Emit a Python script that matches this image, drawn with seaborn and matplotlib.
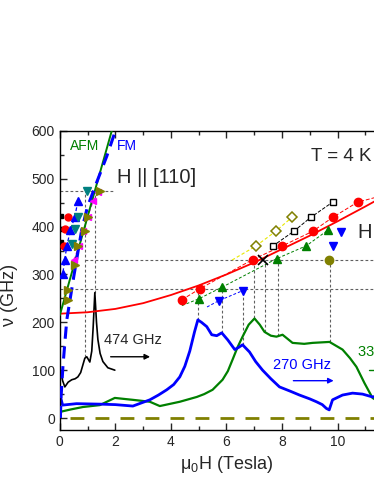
import matplotlib
matplotlib.use("Agg")
import matplotlib.pyplot as plt
import seaborn as sns
from matplotlib.ticker import MultipleLocator, FixedLocator

# ---- spectra (field in Tesla, signal plotted on GHz axis) ----
blue_h = [0.02, 0.1, 0.6, 1.44, 2.0, 2.63, 3.24, 3.55, 3.85, 4.1, 4.32, 4.5, 4.68, 4.85, 4.97,
          5.1, 5.29, 5.47, 5.65, 5.83, 6.05, 6.3, 6.45, 6.58, 6.83, 7.05, 7.3, 7.6, 7.91,
          8.3, 8.63, 9.0, 9.24, 9.45, 9.6, 9.7, 9.82, 10.18, 10.54, 10.9, 11.26, 11.6]
blue_s = [45, 27, 30, 29, 28, 25, 38, 48, 59, 70, 86, 108, 140, 180, 205,
          200, 191, 174, 172, 178, 163, 143, 148, 153, 138, 118, 100, 82, 65,
          56, 48, 40, 34, 28, 20, 17, 38, 48, 52, 50, 44, 48]

green_h = [0.02, 0.4, 0.83, 1.44, 1.98, 2.3, 2.63, 3.24, 3.6, 4.0, 4.32, 4.93, 5.2, 5.5, 5.86,
           6.05, 6.22, 6.4, 6.58, 6.8, 7.01, 7.2, 7.37, 7.6, 7.8, 8.02, 8.38, 8.8, 9.1,
           9.71, 10.18, 10.45, 10.68, 10.97, 11.26, 11.6]
green_s = [13, 18, 23, 27, 42, 40, 38, 34, 25, 30, 34, 44, 50, 59, 80,
           98, 122, 148, 170, 195, 208, 195, 180, 172, 170, 174, 157, 155, 157,
           159, 143, 125, 107, 73, 42, 30]

black_h = [0.02, 0.1, 0.18, 0.3, 0.43, 0.55, 0.65, 0.75, 0.83, 0.9, 0.97, 1.08, 1.15, 1.2,
           1.26, 1.32, 1.37, 1.45, 1.55, 1.73, 1.98]
black_s = [100, 78, 65, 75, 80, 82, 86, 95, 111, 125, 128, 117, 140, 190,
           262, 200, 164, 135, 118, 105, 100]

# ---- model curves ----
fit_h = [0, 1, 2, 3, 4, 5, 6, 7, 8, 9, 10, 11, 12]
fit_f = [218, 221, 228, 240, 257, 277, 300, 325, 353, 381, 411, 442, 474]

afm_h = [0.0, 2.0]
afm_f = [215, 627]

fm_h = [0.02, 0.04, 0.11, 0.18, 0.25, 0.5, 0.79, 1.0, 1.33, 1.69, 2.0, 2.1]
fm_f = [0, 40, 107, 157, 205, 295, 394, 442, 493, 547, 600, 620]

# ---- resonance points, high field ----
red_h = [4.39, 5.04, 6.94, 7.99, 9.1, 9.82, 10.72]
red_f = [247, 270, 331, 359, 390, 419, 451]
grn_h = [5.0, 5.83, 7.81, 8.88, 9.64]
grn_f = [249, 273, 333, 360, 392]
blu_h = [5.72, 6.58]
blu_f = [245, 266]
blu2_h = [9.82, 10.14]
blu2_f = [359, 388]
sq_h = [7.66, 8.42, 9.03, 9.82]
sq_f = [359, 390, 419, 451]
dia_h = [7.05, 7.77, 8.35]
dia_f = [359, 390, 419]
cross_h, cross_f = [7.3], [331]
oc_h, oc_f = [9.71], [331]

# ---- resonance points, low field ----
lk_h = [0.05, 0.05, 0.05]
lk_f = [423, 395, 368]
lr_h = [0.29, 0.18, 0.14]
lr_f = [421, 394, 360]
lb_h = [0.65, 0.54, 0.38, 0.25, 0.18, 0.1]
lb_f = [453, 421, 392, 360, 331, 300]
lt_h = [0.97, 0.65, 0.55, 0.45]
lt_f = [474, 421, 394, 363]
lm_h = [1.37, 1.2, 1.0, 0.85, 0.7, 0.5]
lm_f = [472, 453, 421, 390, 360, 330]
lo_h = [1.44, 1.0, 0.9, 0.65, 0.54, 0.29, 0.29]
lo_f = [474, 421, 390, 360, 319, 268, 247]

# guide lines
h_levels = [474, 330, 270]
h_start = [0, 0.9, 0]
h_end = [2.0, 12, 12]
v_h = [0.9, 1.26, 4.99, 5.83, 6.58, 6.98, 7.38, 7.86, 9.73]
v_top = [474, 474, 270, 270, 270, 330, 330, 330, 330]
v_bot = [128, 262, 205, 178, 153, 208, 180, 172, 159]

sns.set_style("ticks")
plt.rcParams["font.family"] = ["Liberation Sans", "DejaVu Sans"]

fig = plt.figure(figsize=(3.74, 4.84), dpi=100)
ax = fig.add_axes([0.160, 0.1116, 0.891, 0.618])

gs = dict(color="#606060", lw=0.8, ls=(0, (2.5, 2)), zorder=1)
for lev, a, b in zip(h_levels, h_start, h_end):
    ax.plot([a, b], [lev, lev], **gs)
for x, t, b in zip(v_h, v_top, v_bot):
    ax.plot([x, x], [b, t], **gs)

# spectra
sns.lineplot(x=black_h, y=black_s, ax=ax, color="black", lw=1.2, sort=False, estimator=None)
sns.lineplot(x=green_h, y=green_s, ax=ax, color="#008000", lw=1.6, sort=False, estimator=None)
sns.lineplot(x=blue_h, y=blue_s, ax=ax, color="#0000FF", lw=2.0, sort=False, estimator=None)
ax.plot([0.36, 12], [0, 0], color="#808000", lw=2, ls=(0, (5, 4)))

# model lines
ax.plot(fit_h, fit_f, color="#FF0000", lw=1.3, zorder=3)
ax.plot(afm_h, afm_f, color="#008000", lw=1.4, zorder=4)
ax.plot(fm_h, fm_f, color="#0000FF", lw=2.2, ls=(0, (4, 2.5)), zorder=4)

# high field points
ax.plot(red_h + [11.5], red_f + [463], color="#FF0000", lw=0.7, ls=(0, (4, 2)), zorder=2)
ax.plot(red_h, red_f, "o", color="#FF0000", ms=6, zorder=5)
ax.plot([4.4] + grn_h, [235] + grn_f, color="#008000", lw=0.7, ls=(0, (3, 2)), zorder=2)
ax.plot(grn_h, grn_f, "^", color="#008000", ms=6, zorder=5)
ax.plot([5.3] + blu_h, [232] + blu_f, color="#0000FF", lw=0.7, ls=(0, (3, 2)), zorder=2)
ax.plot(blu_h + blu2_h, blu_f + blu2_f, "v", color="#0000FF", ms=6, zorder=5)
ax.plot(sq_h, sq_f, "s--", color="black", mfc="white", ms=4.5, lw=0.7, zorder=5)
ax.plot([6.2] + dia_h, [330] + dia_f, color="#E8E800", lw=0.8, ls=(0, (3, 2)), zorder=2)
ax.plot(dia_h, dia_f, "D", color="#808000", mfc="white", ms=5, mew=1.1, zorder=5)
ax.plot(cross_h, cross_f, "x", color="black", ms=7, mew=1.2, zorder=5)
ax.plot(oc_h, oc_f, "o", color="#808000", ms=6, zorder=5)

# low field points
ax.plot(lb_h, lb_f, color="#0000FF", lw=0.9, ls=(0, (3, 2)), zorder=3)
ax.plot(lm_h, lm_f, color="#FF00FF", lw=0.9, ls=(0, (3, 2)), zorder=3)
ax.plot(lk_h, lk_f, "s", color="black", ms=3.5, zorder=5)
ax.plot(lr_h, lr_f, "o", color="#FF0000", ms=5, zorder=5)
ax.plot(lb_h, lb_f, "^", color="#0000FF", ms=5.5, zorder=5)
ax.plot(lt_h, lt_f, "v", color="#008080", ms=5.5, zorder=5)
ax.plot(lm_h, lm_f, "<", color="#FF00FF", ms=5, zorder=5)
ax.plot(lo_h, lo_f, ">", color="#808000", ms=5.5, zorder=5)

# text
ax.text(0.36, 568, "AFM", color="#008000", fontsize=10, va="center")
ax.text(2.05, 568, "FM", color="#0000FF", fontsize=10, va="center")
ax.text(2.05, 503, "H || [110]", fontsize=14.5, va="center")
ax.text(9.05, 547, "T = 4 K", fontsize=13.5, va="center")
ax.text(10.72, 388, "H", fontsize=14.5, va="center")
ax.text(1.58, 164, "474 GHz", fontsize=10.5, va="center")
ax.annotate("", xy=(3.35, 128), xytext=(1.73, 128),
            arrowprops=dict(arrowstyle="-|>", color="black", lw=1, mutation_scale=8))
ax.text(7.66, 111, "270 GHz", color="#0000FF", fontsize=10.5, va="center")
ax.annotate("", xy=(9.96, 78), xytext=(8.31, 78),
            arrowprops=dict(arrowstyle="-|>", color="#0000FF", lw=1, mutation_scale=8))
ax.text(10.72, 138, "330 GHz", color="#008000", fontsize=10.5, va="center", clip_on=True)
ax.plot([11.15, 12], [100, 100], color="#008000", lw=1)

ax.set_xlim(0, 12)
ax.set_ylim(-25, 600)
ax.xaxis.set_major_locator(FixedLocator([0, 2, 4, 6, 8, 10]))
ax.xaxis.set_minor_locator(MultipleLocator(1))
ax.yaxis.set_major_locator(MultipleLocator(100))
ax.yaxis.set_minor_locator(MultipleLocator(50))
ax.tick_params(which="both", direction="in", top=True, right=True, labelsize=10, width=1)
ax.tick_params(which="major", length=5)
ax.tick_params(which="minor", length=3)
for sp in ax.spines.values():
    sp.set_linewidth(1)
    sp.set_color("black")

ax.set_xlabel(r"$\mathregular{\mu_0}$H (Tesla)", fontsize=13)
ax.set_ylabel("ν (GHz)", fontsize=13)
ax.yaxis.set_label_coords(-0.125, 0.45)

fig.savefig("out.png", dpi=100)
